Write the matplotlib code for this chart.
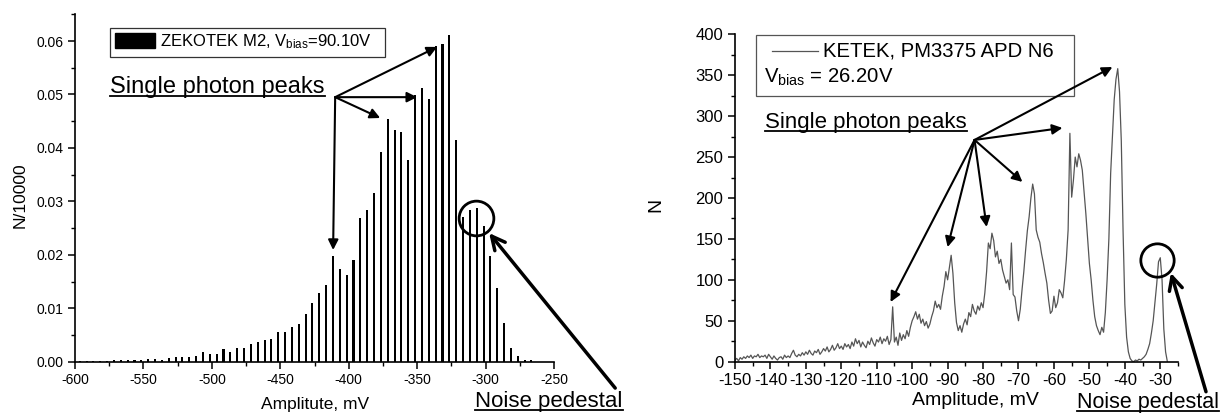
import numpy as np
import matplotlib.pyplot as plt
from matplotlib.patches import Rectangle
from matplotlib.lines import Line2D
from matplotlib.ticker import MultipleLocator, FormatStrFormatter

plt.rcParams['font.family'] = ['Liberation Sans', 'DejaVu Sans']
plt.rcParams['mathtext.default'] = 'regular'
plt.rcParams['axes.unicode_minus'] = False

# ---- left: ZEKOTEK M2 amplitude histogram, 5 mV bins ----
zek_first_bin = -596.5
zek_bin_width = 5.0
zek_counts = [0.0002, 0.0002, 0.0002, 0.0002, 0.0002, 0.0003, 0.0003, 0.0003, 0.0004, 0.0004,
              0.0005, 0.0005, 0.0004, 0.0006, 0.0009, 0.0008, 0.0009, 0.0011, 0.0019, 0.0014,
              0.0014, 0.0023, 0.0019, 0.0026, 0.0025, 0.0034, 0.0037, 0.0041, 0.0042, 0.0056,
              0.0056, 0.0064, 0.0070, 0.0090, 0.0110, 0.0129, 0.0143, 0.0197, 0.0173, 0.0162,
              0.0190, 0.0268, 0.0283, 0.0315, 0.0393, 0.0455, 0.0434, 0.0429, 0.0377, 0.0499,
              0.0512, 0.0491, 0.0590, 0.0594, 0.0611, 0.0415, 0.0270, 0.0283, 0.0287, 0.0253,
              0.0198, 0.0137, 0.0073, 0.0025, 0.0011, 0.0004, 0.0003]

# ---- right: KETEK PM3375 spectrum, read every 0.5 mV from -150 mV ----
ket_start = -150.0
ket_step = 0.5
ket_counts = [2, 4, 1, 5, 3, 6, 4, 7, 5, 8,
              4, 7, 6, 9, 5, 7, 6, 8, 4, 9,
              6, 3, 7, 4, 2, 5, 6, 3, 8, 5,
              7, 5, 10, 14, 8, 6, 9, 7, 11, 8,
              12, 9, 14, 10, 8, 13, 11, 15, 9, 12,
              16, 13, 18, 12, 15, 20, 14, 17, 22, 16,
              19, 15, 22, 18, 21, 16, 24, 19, 28, 22,
              26, 18, 24, 20, 17, 25, 21, 29, 23, 19,
              27, 24, 30, 22, 28, 25, 31, 21, 27, 67,
              24, 30, 20, 35, 26, 33, 28, 38, 31, 42,
              50, 55, 61, 52, 58, 47, 52, 44, 49, 41,
              46, 55, 62, 74, 66, 70, 64, 80, 92, 110,
              100, 115, 130, 108, 72, 48, 38, 44, 36, 46,
              52, 45, 60, 55, 70, 62, 58, 68, 63, 72,
              66, 84, 110, 145, 138, 157, 148, 128, 135, 120,
              125, 112, 104, 96, 100, 88, 145, 82, 79, 62,
              50, 64, 88, 110, 136, 160, 177, 200, 217, 205,
              161, 152, 146, 132, 121, 108, 96, 75, 59, 62,
              80, 66, 72, 88, 84, 78, 99, 125, 161, 279,
              201, 222, 250, 238, 254, 246, 234, 208, 181, 150,
              120, 100, 75, 55, 44, 38, 33, 42, 36, 60,
              100, 150, 230, 275, 320, 345, 358, 330, 270, 160,
              70, 30, 12, 4, 1, 0, 2, 1, 3, 2,
              4, 6, 9, 15, 22, 35, 50, 72, 95, 122,
              127, 100, 40, 12, 0]

zek_amp = zek_first_bin + zek_bin_width * np.arange(len(zek_counts))
ket_amp = ket_start + ket_step * np.arange(len(ket_counts))

fig = plt.figure(figsize=(12.29, 4.19), dpi=100)
ax1 = fig.add_axes([0.061, 0.1368, 0.3898, 0.829])
ax2 = fig.add_axes([0.598, 0.1368, 0.3605, 0.7814])

for ax in (ax1, ax2):
    ax.spines['top'].set_visible(False)
    ax.spines['right'].set_visible(False)
    ax.spines['left'].set_linewidth(1.2)
    ax.spines['bottom'].set_linewidth(1.2)
    ax.tick_params(which='major', direction='out', length=5, width=1.1)
    ax.tick_params(which='minor', direction='out', length=3, width=1.0)

# left panel
ax1.bar(zek_amp, zek_counts, width=1.5, color='black')
ax1.set_xlim(-600, -250)
ax1.set_ylim(0, 0.065)
ax1.xaxis.set_major_locator(MultipleLocator(50))
ax1.xaxis.set_minor_locator(MultipleLocator(25))
ax1.yaxis.set_major_locator(MultipleLocator(0.01))
ax1.yaxis.set_minor_locator(MultipleLocator(0.005))
ax1.yaxis.set_major_formatter(FormatStrFormatter('%.2f'))
ax1.tick_params(labelsize=10)
ax1.set_xlabel('Amplitute, mV', fontsize=12.5)
ax1.set_ylabel('N/10000', fontsize=12.5)
ax1.xaxis.set_label_coords(0.501, -0.102)
ax1.yaxis.set_label_coords(-0.098, 0.48)

ax1.add_patch(Rectangle((0.073, 0.877), 0.574, 0.0836, transform=ax1.transAxes,
                        facecolor='white', edgecolor='#333333', lw=0.9, clip_on=False))
ax1.add_patch(Rectangle((0.0835, 0.903), 0.0835, 0.0425, transform=ax1.transAxes,
                        facecolor='black', edgecolor='black', clip_on=False))
ax1.text(0.1775, 0.921, 'ZEKOTEK M2, V$_{bias}$=90.10V', transform=ax1.transAxes,
         fontsize=12, va='center', ha='left')

t1 = ax1.text(-574.4, 0.0503, 'Single photon peaks', fontsize=17, va='baseline')
arrow_kw = dict(arrowstyle='-|>', color='black', lw=1.5, mutation_scale=15,
                shrinkA=0, shrinkB=0)
for head in [(-411.4, 0.0209), (-377, 0.0456), (-350, 0.0495), (-335.4, 0.0589)]:
    ax1.annotate('', xy=head, xytext=(-409.9, 0.0495), arrowprops=arrow_kw,
                 annotation_clip=False)
ax1.plot([-306.9], [0.02686], marker='o', ms=25, mfc='none', mec='black', mew=2,
         clip_on=False)
ax1.annotate('', xy=(-297.4, 0.02406), xytext=(-205.3, -0.00494),
             arrowprops=dict(arrowstyle='->', color='black', lw=2.5, mutation_scale=24,
                             shrinkA=0, shrinkB=0), annotation_clip=False)
t2 = ax1.text(-307.6, -0.0085, 'Noise pedestal', fontsize=16, va='baseline')

# right panel
ax2.plot(ket_amp, ket_counts, color='#555555', lw=0.9)
ax2.set_xlim(-150, -25)
ax2.set_ylim(0, 400)
ax2.set_xticks(np.arange(-150, -29, 10))
ax2.xaxis.set_minor_locator(MultipleLocator(5))
ax2.yaxis.set_major_locator(MultipleLocator(50))
ax2.yaxis.set_minor_locator(MultipleLocator(25))
ax2.tick_params(labelsize=12)
ax2.set_xlabel('Amplitude, mV', fontsize=14)
ax2.set_ylabel('N', fontsize=14)
ax2.xaxis.set_label_coords(0.542, -0.093)
ax2.yaxis.set_label_coords(-0.16, 0.479)

ax2.add_patch(Rectangle((0.0474, 0.8115), 0.7176, 0.1865, transform=ax2.transAxes,
                        facecolor='white', edgecolor='#555555', lw=0.9, clip_on=False))
ax2.add_line(Line2D([0.0835, 0.187], [0.949, 0.949], transform=ax2.transAxes,
                    color='#555555', lw=0.9))
ax2.text(0.1986, 0.949, 'KETEK, PM3375 APD N6', transform=ax2.transAxes,
         fontsize=14.6, va='center', ha='left')
ax2.text(0.0655, 0.8695, 'V$_{bias}$ = 26.20V', transform=ax2.transAxes,
         fontsize=14.6, va='center', ha='left')

t3 = ax2.text(-141.5, 285.5, 'Single photon peaks', fontsize=16, va='baseline')
for head in [(-106.1, 72.9), (-90, 140), (-79, 164.6), (-68.9, 219.6), (-57.6, 285.6),
             (-43.5, 360)]:
    ax2.annotate('', xy=head, xytext=(-82.4, 270.9), arrowprops=arrow_kw,
                 annotation_clip=False)
ax2.plot([-30.9], [124.3], marker='o', ms=24, mfc='none', mec='black', mew=2,
         clip_on=False)
ax2.annotate('', xy=(-27, 108.4), xytext=(-17.1, -36.7),
             arrowprops=dict(arrowstyle='->', color='black', lw=2.5, mutation_scale=24,
                             shrinkA=0, shrinkB=0), annotation_clip=False)
t4 = ax2.text(-53.4, -56, 'Noise pedestal', fontsize=15.5, va='baseline')

# underline the annotation labels
fig.canvas.draw()
inv = fig.transFigure.inverted()
for t in (t1, t2, t3, t4):
    bb = t.get_window_extent().transformed(inv)
    fig.add_artist(Line2D([bb.x0, bb.x1], [bb.y0 + 0.004, bb.y0 + 0.004],
                          transform=fig.transFigure, color='black', lw=1.3))

fig.savefig('out.png', dpi=100)
